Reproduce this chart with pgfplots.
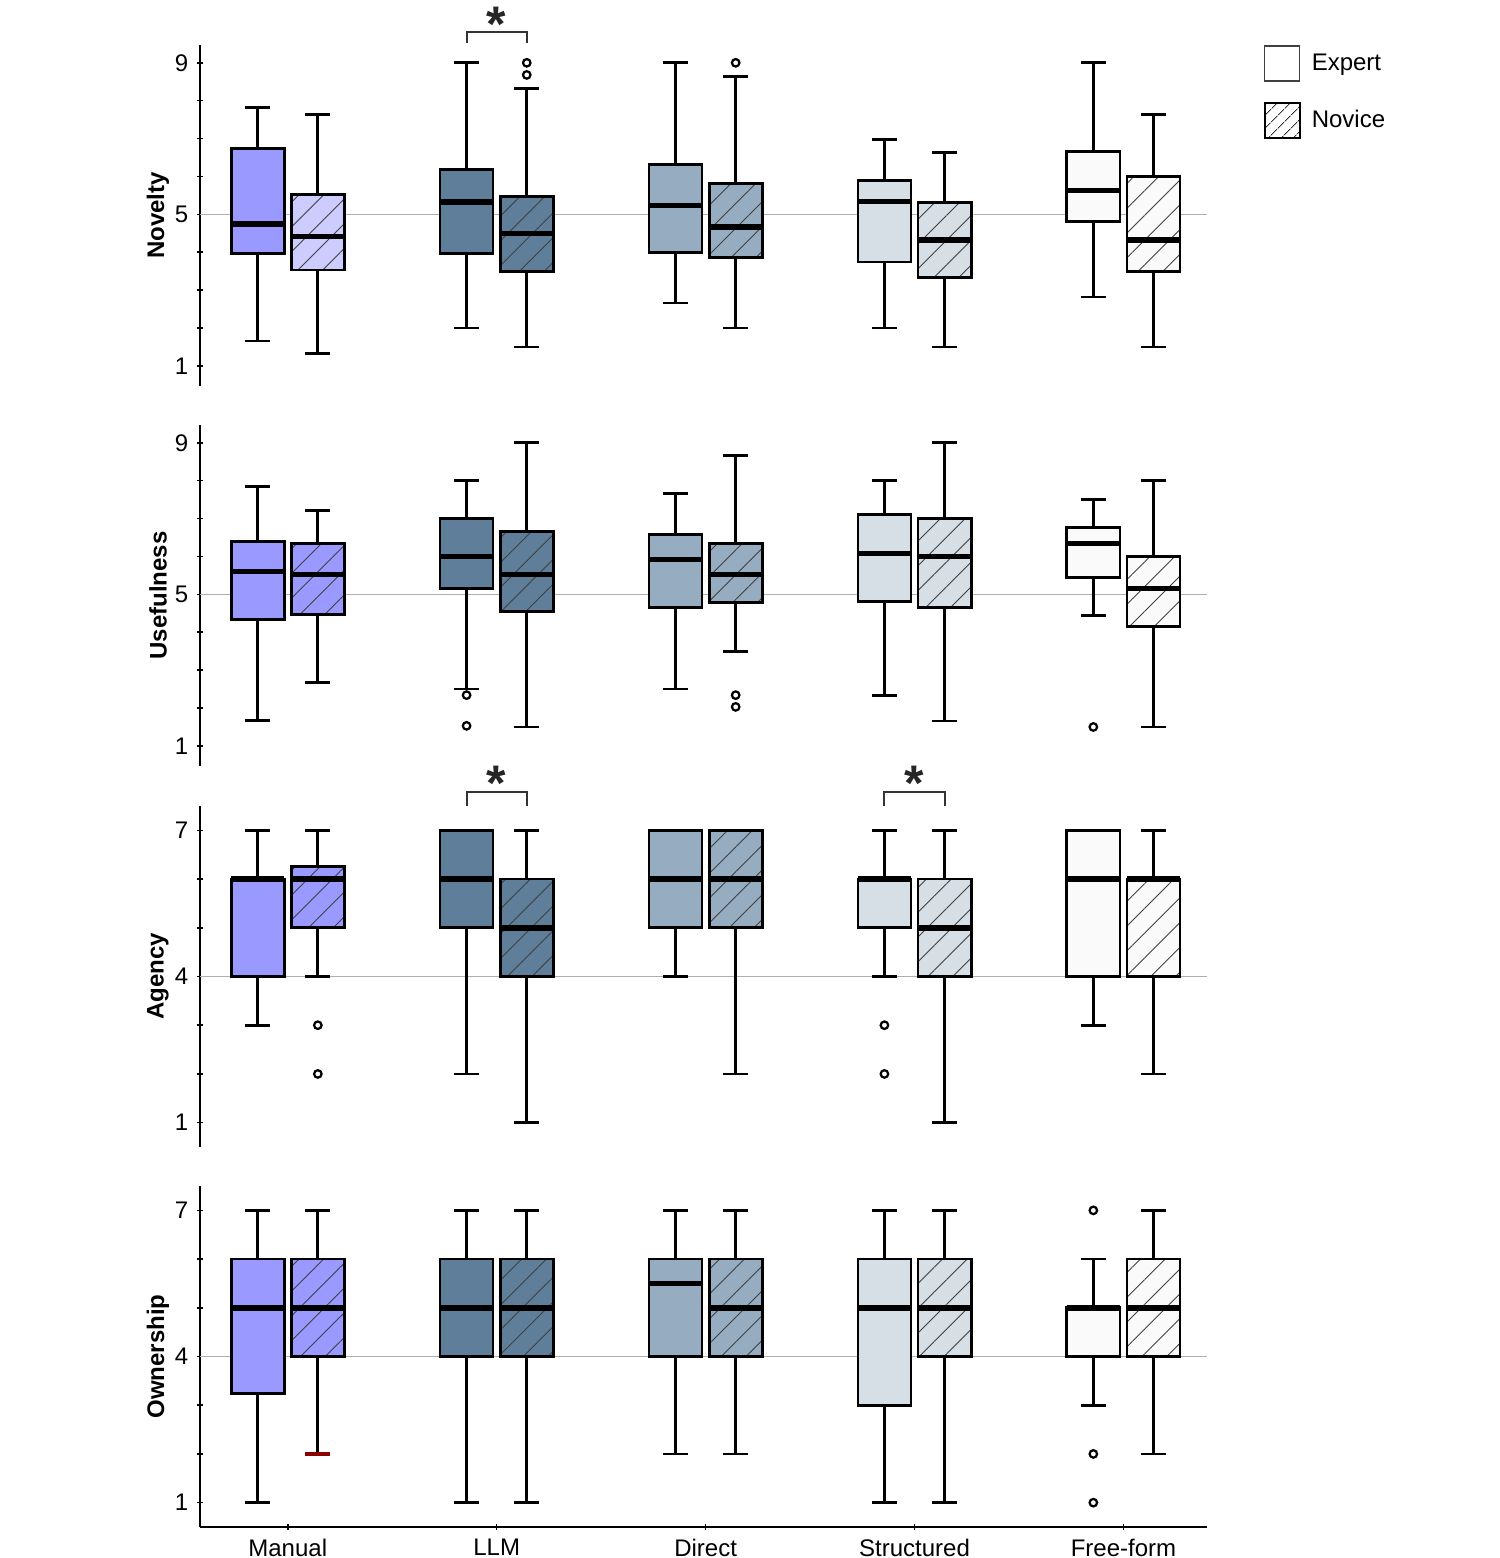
\documentclass[border=0pt]{standalone}
\usepackage{fontspec}
\setmainfont{Liberation Sans}
\usepackage{pgfplots}
\pgfplotsset{compat=1.18}
\usepgfplotslibrary{statistics}
\usetikzlibrary{patterns.meta}

\definecolor{cman}{RGB}{153,153,255}
\definecolor{cmanl}{RGB}{204,204,255}
\definecolor{cllm}{RGB}{94,126,153}
\definecolor{cdir}{RGB}{150,172,192}
\definecolor{cstr}{RGB}{214,222,230}
\definecolor{cfree}{RGB}{250,250,250}
\definecolor{refgray}{RGB}{175,175,175}

\newcommand{\fs}{\fontsize{9.6}{11}\selectfont}

\pgfplotsset{
  panel/.style={
    scale only axis, width=402.8pt, height=136.4pt,
    xmin=-0.42, xmax=4.40,
    clip=false,
    tick align=outside, ytick pos=left,
    major tick length=2.4pt, minor tick length=2.4pt,
    every tick/.style={black, line width=0.6pt},
    /pgf/number format/assume math mode=true,
    tick label style={font=\fs},
    ylabel style={font=\fs\bfseries, at={(axis description cs:-0.0417,0.5)}, anchor=center},
  },
  toppanel/.style={panel, axis y line=left, axis x line=none,
    y axis line style={-, line width=0.8pt}},
  nine/.style={ymin=0.47, ymax=9.47, ytick={1,5,9}, minor ytick={2,3,4,6,7,8}},
  seven/.style={ymin=0.5, ymax=7.5, ytick={1,4,7}, minor ytick={2,3,5,6}},
  bx/.style={draw=black, line width=1.1pt, solid,
    mark=*, mark size=1.5pt, mark options={fill=white, draw=black, line width=0.9pt},
    /pgfplots/boxplot/draw direction=y,
    /pgfplots/boxplot/box extend=0.254, /pgfplots/boxplot/whisker extend=0.12,
    /pgfplots/boxplot/every median/.style={line width=2.2pt}},
  nov/.style={/pgfplots/boxplot/every box/.append style={postaction={pattern={Lines[angle=45,distance=7pt,line width=0.35pt]}, pattern color=black!75}}},
  sqlegend/.style={legend image code/.code={\draw[##1] (0pt,-7pt) rectangle (14pt,7pt);}},
}

% pos, lower whisker, lower quartile, median, upper quartile, upper whisker, style, outliers
\newcommand{\bx}[8]{\addplot[bx,#7,boxplot prepared={draw position=#1,lower whisker=#2,lower quartile=#3,median=#4,upper quartile=#5,upper whisker=#6}] coordinates {#8};}

\begin{document}
\begin{tikzpicture}
\path[use as bounding box] (0,0) rectangle (599.6pt,-623.2pt);

% Novelty
\begin{axis}[toppanel, nine, at={(80pt,-18pt)}, anchor=north west, ylabel={Novelty},
  legend style={at={(1.0556,1)}, anchor=north west, draw=none, fill=none, inner sep=0pt,
    row sep=8pt, column sep=4.4pt, nodes={inner sep=0pt, font=\fs}},
  legend cell align=left]
\addlegendimage{sqlegend, draw=black!75, line width=0.6pt, fill=white}
\addlegendentry{Expert}
\addlegendimage{sqlegend, draw=black, line width=0.9pt, fill=white, postaction={pattern={Lines[angle=45,distance=4pt,line width=0.35pt]}, pattern color=black!80}}
\addlegendentry{Novice}
\addplot[refgray, line width=0.5pt] coordinates {(-0.42,5) (4.40,5)};
\bx{-0.144}{1.66}{3.97}{4.74}{6.74}{7.82}{fill=cman}{}
\bx{0.144}{1.32}{3.53}{4.42}{5.53}{7.63}{fill=cmanl,nov}{}
\bx{0.856}{2.0}{3.97}{5.32}{6.18}{9.0}{fill=cllm}{}
\bx{1.144}{1.5}{3.5}{4.5}{5.47}{8.32}{fill=cllm,nov}{(0,9.0) (0,8.68)}
\bx{1.856}{2.66}{4.0}{5.24}{6.32}{9.0}{fill=cdir}{}
\bx{2.144}{2.0}{3.87}{4.66}{5.82}{8.64}{fill=cdir,nov}{(0,9.0)}
\bx{2.856}{2.0}{3.74}{5.34}{5.89}{6.97}{fill=cstr}{}
\bx{3.144}{1.5}{3.34}{4.32}{5.32}{6.63}{fill=cstr,nov}{}
\bx{3.856}{2.82}{4.82}{5.63}{6.66}{9.0}{fill=cfree}{}
\bx{4.144}{1.5}{3.5}{4.32}{6.0}{7.63}{fill=cfree,nov}{}
\draw[black!80, line width=0.8pt] (axis cs:0.856,9.53) -- (axis cs:0.856,9.82) -- (axis cs:1.144,9.82) -- (axis cs:1.144,9.53);
\node[anchor=base, font=\fontsize{20}{20}\selectfont\bfseries, text=black!85] at (axis cs:1,9.57) {*};
\end{axis}

% Usefulness
\begin{axis}[toppanel, nine, at={(80pt,-170pt)}, anchor=north west, ylabel={Usefulness}]
\addplot[refgray, line width=0.5pt] coordinates {(-0.42,5) (4.40,5)};
\bx{-0.144}{1.68}{4.34}{5.6}{6.39}{7.84}{fill=cman}{}
\bx{0.144}{2.68}{4.47}{5.53}{6.34}{7.21}{fill=cman,nov}{}
\bx{0.856}{2.5}{5.16}{6.0}{7.0}{8.0}{fill=cllm}{(0,2.34) (0,1.53)}
\bx{1.144}{1.5}{4.55}{5.53}{6.66}{9.0}{fill=cllm,nov}{}
\bx{1.856}{2.5}{4.66}{5.92}{6.58}{7.66}{fill=cdir}{}
\bx{2.144}{3.5}{4.79}{5.53}{6.34}{8.66}{fill=cdir,nov}{(0,2.34) (0,2.03)}
\bx{2.856}{2.34}{4.82}{6.08}{7.1}{8.0}{fill=cstr}{}
\bx{3.144}{1.66}{4.66}{6.0}{7.0}{9.0}{fill=cstr,nov}{}
\bx{3.856}{4.45}{5.45}{6.34}{6.76}{7.5}{fill=cfree}{(0,1.5)}
\bx{4.144}{1.5}{4.16}{5.16}{6.0}{8.0}{fill=cfree,nov}{}
\end{axis}

% Agency
\begin{axis}[toppanel, seven, at={(80pt,-322.4pt)}, anchor=north west, ylabel={Agency}]
\addplot[refgray, line width=0.5pt] coordinates {(-0.42,4) (4.40,4)};
\bx{-0.144}{3}{4}{6}{6}{7}{fill=cman}{}
\bx{0.144}{4}{5}{6}{6.26}{7}{fill=cman,nov}{(0,3) (0,2)}
\bx{0.856}{2}{5}{6}{7}{7}{fill=cllm}{}
\bx{1.144}{1}{4}{5}{6}{7}{fill=cllm,nov}{}
\bx{1.856}{4}{5}{6}{7}{7}{fill=cdir}{}
\bx{2.144}{2}{5}{6}{7}{7}{fill=cdir,nov}{}
\bx{2.856}{4}{5}{6}{6}{7}{fill=cstr}{(0,3) (0,2)}
\bx{3.144}{1}{4}{5}{6}{7}{fill=cstr,nov}{}
\bx{3.856}{3}{4}{6}{7}{7}{fill=cfree}{}
\bx{4.144}{2}{4}{6}{6}{7}{fill=cfree,nov}{}
\draw[black!80, line width=0.8pt] (axis cs:0.856,7.51) -- (axis cs:0.856,7.78) -- (axis cs:1.144,7.78) -- (axis cs:1.144,7.51);
\node[anchor=base, font=\fontsize{20}{20}\selectfont\bfseries, text=black!85] at (axis cs:1,7.61) {*};
\draw[black!80, line width=0.8pt] (axis cs:2.856,7.51) -- (axis cs:2.856,7.78) -- (axis cs:3.144,7.78) -- (axis cs:3.144,7.51);
\node[anchor=base, font=\fontsize{20}{20}\selectfont\bfseries, text=black!85] at (axis cs:3,7.61) {*};
\end{axis}

% Ownership
\begin{axis}[panel, seven, at={(80pt,-474.4pt)}, anchor=north west, ylabel={Ownership},
  axis lines=left, axis line style={-, line width=0.8pt},
  xtick={0,1,2,3,4}, xtick pos=bottom,
  xticklabels={Manual,LLM,Direct,Structured,Free-form}]
\addplot[refgray, line width=0.5pt] coordinates {(-0.42,4) (4.40,4)};
\bx{-0.144}{1}{3.24}{5}{6}{7}{fill=cman}{}
\bx{0.144}{2}{4}{5}{6}{7}{fill=cman,nov}{}
\addplot[draw=red!55!black, line width=1.3pt] coordinates {(0.084,2) (0.204,2)};
\bx{0.856}{1}{4}{5}{6}{7}{fill=cllm}{}
\bx{1.144}{1}{4}{5}{6}{7}{fill=cllm,nov}{}
\bx{1.856}{2}{4}{5.5}{6}{7}{fill=cdir}{}
\bx{2.144}{2}{4}{5}{6}{7}{fill=cdir,nov}{}
\bx{2.856}{1}{3}{5}{6}{7}{fill=cstr}{}
\bx{3.144}{1}{4}{5}{6}{7}{fill=cstr,nov}{}
\bx{3.856}{3}{4}{5}{5}{6}{fill=cfree}{(0,7) (0,2) (0,1)}
\bx{4.144}{2}{4}{5}{6}{7}{fill=cfree,nov}{}
\end{axis}
\end{tikzpicture}
\end{document}
